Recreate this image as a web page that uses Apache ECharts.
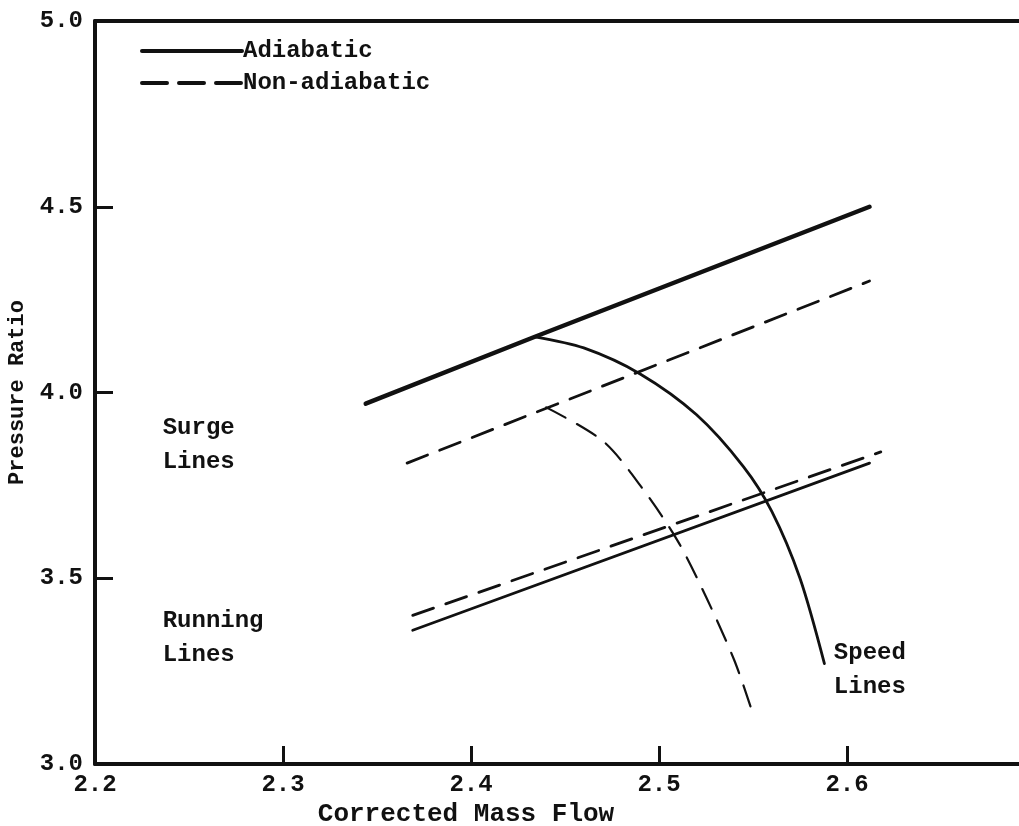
<!DOCTYPE html>
<html>
<head>
<meta charset="utf-8">
<script src="https://cdn.jsdelivr.net/npm/echarts@6/dist/echarts.min.js"></script>
<style>
  html, body { margin: 0; padding: 0; background: #fff; }
  #chart { width: 1019px; height: 826px; }
</style>
</head>
<body>
<div id="chart"></div>
<script>
// Compressor map: surge, running and speed lines, adiabatic vs non-adiabatic
const xTicks = [2.2, 2.3, 2.4, 2.5, 2.6];
const yTicks = [3.0, 3.5, 4.0, 4.5, 5.0];

// [corrected mass flow, pressure ratio]
const surgeAdiabatic    = [[2.344, 3.97], [2.434, 4.15], [2.612, 4.50]];
const surgeNonAdiabatic = [[2.366, 3.81], [2.612, 4.30]];
const runAdiabatic      = [[2.369, 3.36], [2.612, 3.81]];
const runNonAdiabatic   = [[2.369, 3.40], [2.618, 3.84]];
const speedAdiabatic    = [[2.434, 4.15], [2.46, 4.12], [2.49, 4.05], [2.52, 3.94],
                           [2.545, 3.80], [2.56, 3.68], [2.575, 3.50], [2.588, 3.27]];
const speedNonAdiabatic = [[2.440, 3.96], [2.47, 3.87], [2.49, 3.75], [2.51, 3.60],
                           [2.525, 3.45], [2.54, 3.28], [2.549, 3.15]];

const FONT = '"Liberation Mono", "DejaVu Sans Mono", monospace';
const FS = 24;
const INK = '#111';
const DASH = [22, 13];
const X_MAX = 2.6915;

const chart = echarts.init(document.getElementById('chart'));

function line(name, data, width, dashed) {
  return {
    name: name, type: 'line', data: data, showSymbol: false, symbol: 'none',
    smooth: data.length > 3 ? 0.3 : false, animation: false, silent: true,
    lineStyle: { color: INK, width: width, type: dashed ? DASH : 'solid', cap: 'round' },
    z: 3
  };
}

const textBase = { fontFamily: FONT, fontWeight: 'bold', fontSize: FS, color: INK };

chart.setOption({
  backgroundColor: '#fff',
  animation: false,
  grid: { left: 95, right: 0, top: 21, bottom: 62, containLabel: false, outerBoundsMode: 'none' },
  legend: {
    orient: 'vertical', left: 135, top: 34, itemGap: 8,
    itemWidth: 100, itemHeight: 24,
    textStyle: Object.assign({}, textBase, { padding: [0, 0, 0, -4] }),
    data: [
      { name: 'Adiabatic', itemStyle: { opacity: 0 },
        lineStyle: { color: INK, width: 4, type: 'solid' } },
      { name: 'Non-adiabatic', itemStyle: { opacity: 0 },
        lineStyle: { color: INK, width: 4, type: [25, 12] } }
    ]
  },
  xAxis: [{
    type: 'value', min: 2.2, max: X_MAX,
    name: 'Corrected Mass Flow', nameLocation: 'middle', nameGap: 32,
    nameTextStyle: Object.assign({}, textBase, { fontSize: 26, padding: [0, 182, 0, 0] }),
    axisLine: { lineStyle: { color: INK, width: 4 } },
    axisTick: { inside: true, length: 18, lineStyle: { color: INK, width: 3 }, customValues: xTicks },
    axisLabel: Object.assign({}, textBase, { margin: 9, customValues: xTicks,
                 formatter: v => v.toFixed(1) }),
    splitLine: { show: false }
  }, {
    type: 'value', position: 'top', min: 2.2, max: X_MAX,
    axisLine: { lineStyle: { color: INK, width: 4 } },
    axisTick: { show: false }, axisLabel: { show: false }, splitLine: { show: false }
  }],
  yAxis: {
    type: 'value', min: 3.0, max: 5.0, interval: 0.5,
    name: 'Pressure Ratio', nameLocation: 'middle', nameGap: 54, nameRotate: 90,
    nameTextStyle: Object.assign({}, textBase, { fontSize: 22 }),
    axisLine: { lineStyle: { color: INK, width: 4 } },
    axisTick: { inside: true, length: 18, lineStyle: { color: INK, width: 3 } },
    axisLabel: Object.assign({}, textBase, { margin: 12, formatter: v => v.toFixed(1) }),
    splitLine: { show: false }
  },
  series: [
    line('Adiabatic', surgeAdiabatic, 4.5, false),
    line('Non-adiabatic', surgeNonAdiabatic, 2.8, true),
    line('Adiabatic', runAdiabatic, 2.8, false),
    line('Non-adiabatic', runNonAdiabatic, 2.8, true),
    line('Adiabatic', speedAdiabatic, 2.8, false),
    line('Non-adiabatic', speedNonAdiabatic, 2.2, true)
  ]
});

// Text annotations anchored in data space
const notes = [
  { lines: ['Surge', 'Lines'], at: [2.236, 3.95] },
  { lines: ['Running', 'Lines'], at: [2.236, 3.43] },
  { lines: ['Speed', 'Lines'], at: [2.593, 3.345] }
];
chart.setOption({
  graphic: notes.map(n => {
    const p = chart.convertToPixel({ xAxisIndex: 0, yAxisIndex: 0 }, n.at);
    return {
      type: 'text', left: p[0], top: p[1], silent: true,
      style: { text: n.lines.join('\n'), fill: INK, lineHeight: 34,
               font: 'bold ' + FS + 'px ' + FONT }
    };
  })
});
</script>
</body>
</html>
